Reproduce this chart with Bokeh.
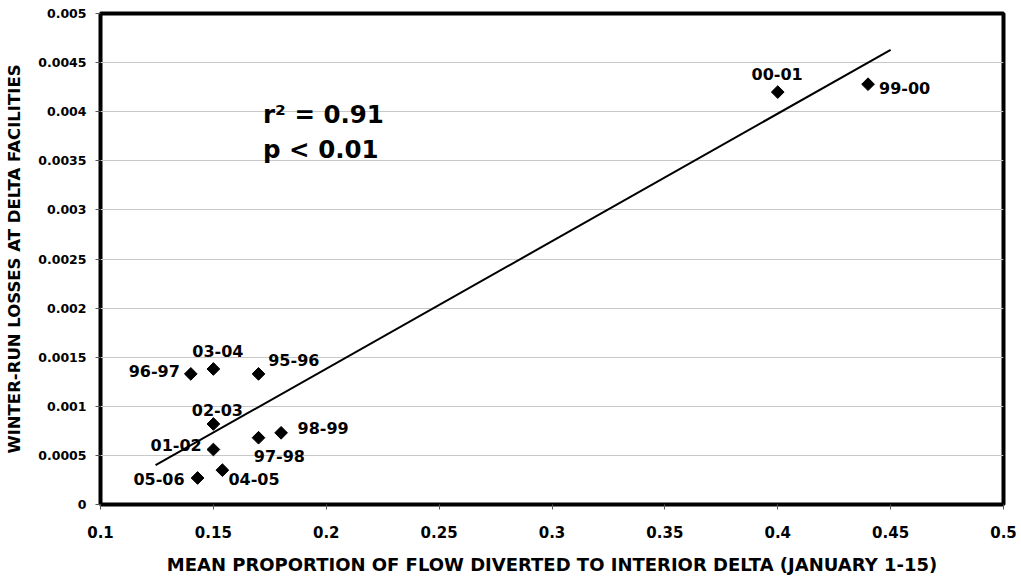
import math
from bokeh.plotting import figure
from bokeh.models import FixedTicker, Range1d, Label, ColumnDataSource
from bokeh.core.properties import value
from bokeh.embed import file_html
from bokeh.resources import INLINE

# ---- data ----
seasons = ["96-97", "03-04", "95-96", "02-03", "98-99", "97-98",
           "01-02", "04-05", "05-06", "00-01", "99-00"]
flow_proportion = [0.140, 0.150, 0.170, 0.150, 0.180, 0.170,
                   0.150, 0.154, 0.143, 0.400, 0.440]
winter_run_losses = [0.00133, 0.00138, 0.00133, 0.00082, 0.00073, 0.00068,
                     0.00056, 0.00035, 0.00027, 0.00420, 0.00428]

trend_x = [0.1244, 0.45]
trend_y = [0.00040, 0.00463]

x_ticks = [0.1, 0.15, 0.2, 0.25, 0.3, 0.35, 0.4, 0.45, 0.5]
x_tick_labels = ["0.1", "0.15", "0.2", "0.25", "0.3", "0.35", "0.4", "0.45", "0.5"]
y_ticks = [0, 0.0005, 0.001, 0.0015, 0.002, 0.0025, 0.003, 0.0035, 0.004, 0.0045, 0.005]
y_tick_labels = ["0", "0.0005", "0.001", "0.0015", "0.002", "0.0025",
                 "0.003", "0.0035", "0.004", "0.0045", "0.005"]

x_title = "MEAN PROPORTION OF FLOW DIVERTED TO INTERIOR DELTA (JANUARY 1-15)"
y_title = "WINTER-RUN LOSSES AT DELTA FACILITIES"
stat_lines = ["r\u00b2 = 0.91", "p < 0.01"]

# label placement (style): alignment and pixel offsets per point
label_align = ["right", "center", "left", "center", "left", "left",
               "right", "left", "right", "center", "left"]
label_dx = [-11, 4.5, 9.7, 4, 16.4, -4.7, -11.7, 6, -13, -0.6, 11]
label_dy = [-3, -18, -14, -14.4, -5.3, 18.3, -4.7, 8.7, 1, -18.4, 3.3]

FONT = "DejaVu Sans"

p = figure(width=1021, height=579, output_backend="svg", toolbar_location=None,
           x_range=Range1d(0.1, 0.5), y_range=Range1d(0, 0.005),
           min_border_left=100, min_border_right=18, min_border_top=13,
           min_border_bottom=75)

p.background_fill_color = "white"
p.border_fill_color = "white"
p.outline_line_color = "black"
p.outline_line_width = 4

p.xgrid.grid_line_color = None
p.ygrid.grid_line_color = "#c8c8c8"
p.ygrid.grid_line_width = 1

p.xaxis.ticker = FixedTicker(ticks=x_ticks)
p.yaxis.ticker = FixedTicker(ticks=y_ticks)
p.xaxis.major_label_overrides = {t: l for t, l in zip(x_ticks, x_tick_labels)}
p.yaxis.major_label_overrides = {t: l for t, l in zip(y_ticks, y_tick_labels)}

for ax in (p.xaxis, p.yaxis):
    ax.axis_line_color = None
    ax.major_tick_line_color = "#555555"
    ax.major_tick_out = 5
    ax.major_tick_in = 0
    ax.minor_tick_line_color = None
    ax.major_label_text_font = FONT
    ax.major_label_text_font_style = "bold"
    ax.major_label_text_color = "black"
    ax.axis_label_text_font = FONT
    ax.axis_label_text_font_style = "bold"
    ax.axis_label_text_color = "black"

p.xaxis.axis_label_text_font_size = "18px"
p.yaxis.axis_label_text_font_size = "16.5px"
p.xaxis.major_label_text_font_size = "15px"
p.yaxis.major_label_text_font_size = "12.5px"
p.xaxis.major_label_standoff = 16
p.yaxis.major_label_standoff = 9
p.xaxis.axis_label = x_title
p.yaxis.axis_label = y_title
p.xaxis.axis_label_standoff = 13
p.yaxis.axis_label_standoff = 11

# trend line
p.line(trend_x, trend_y, line_color="black", line_width=2)

src = ColumnDataSource(dict(x=flow_proportion, y=winter_run_losses, name=seasons,
                            align=label_align, dx=label_dx, dy=label_dy))
p.scatter("x", "y", source=src, marker="square", size=9, angle=math.pi / 4,
          fill_color="black", line_color="black")

p.text("x", "y", text="name", source=src, text_align="align", x_offset="dx",
       y_offset="dy", text_baseline="middle", text_font=value(FONT),
       text_font_style="bold", text_font_size="16px", text_color="black")

p.add_layout(Label(x=0.172, y=0.00397, text=stat_lines[0], text_font=FONT,
                   text_font_style="bold", text_font_size="24.5px",
                   text_baseline="middle", text_color="black"))
p.add_layout(Label(x=0.172, y=0.00361, text=stat_lines[1], text_font=FONT,
                   text_font_style="bold", text_font_size="24.5px",
                   text_baseline="middle", text_color="black"))

open("out.html", "w").write(file_html(p, INLINE))
